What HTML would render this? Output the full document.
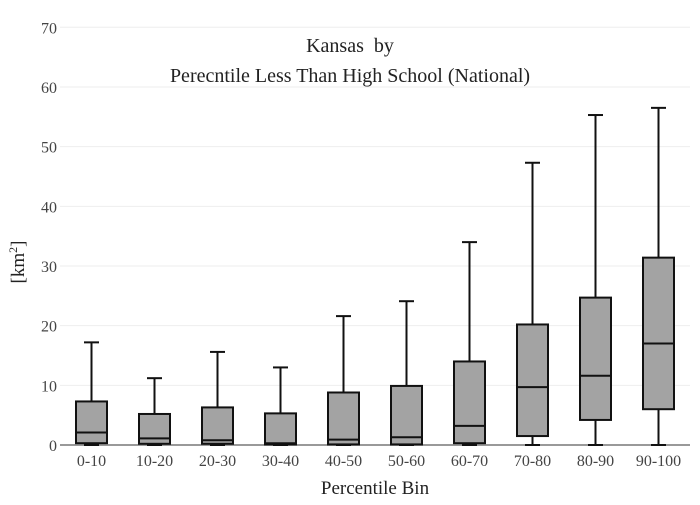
<!DOCTYPE html>
<html><head><meta charset="utf-8"><style>
body{margin:0;background:#fff}
text{font-family:"Liberation Serif",serif;fill:#444}
</style></head><body>
<svg width="700" height="500" id="svg" xmlns="http://www.w3.org/2000/svg">
<rect width="700" height="500" fill="#fff"/>
<text x="350" y="52" text-anchor="middle" font-size="20" style="fill:#222;white-space:pre">Kansas  by</text>
<text x="350" y="82" text-anchor="middle" font-size="20" style="fill:#222">Perecntile Less Than High School (National)</text>
<text x="375" y="494" text-anchor="middle" font-size="19" style="fill:#222">Percentile Bin</text>
<text transform="translate(24,262) rotate(-90)" text-anchor="middle" font-size="19" style="fill:#222">[km<tspan baseline-shift="super" font-size="12">2</tspan>]</text>
<g id="grid"></g><g id="boxes"></g>
</svg>
<script>
const categories=["0-10","10-20","20-30","30-40","40-50","50-60","60-70","70-80","80-90","90-100"];
const lowerW=[0,0,0,0,0,0,0,0,0,0];
const q1=[0.3,0.2,0.2,0.1,0.1,0.1,0.3,1.5,4.2,6.0];
const medians=[2.1,1.1,0.8,0.3,0.9,1.3,3.2,9.7,11.6,17.0];
const q3=[7.3,5.2,6.3,5.3,8.8,9.9,14.0,20.2,24.7,31.4];
const upperW=[17.2,11.2,15.6,13.0,21.6,24.1,34.0,47.3,55.3,56.5];
const yTicks=[0,10,20,30,40,50,60,70];
const NS="http://www.w3.org/2000/svg";
const X0=60,X1=690,Y0=445,PX=5.967;
const y=v=>Y0-v*PX;
const step=(X1-X0)/categories.length;
const x=i=>X0+step*(i+0.5);
function mk(tag,attrs,parent){const e=document.createElementNS(NS,tag);for(const k in attrs)e.setAttribute(k,attrs[k]);parent.appendChild(e);return e;}
const grid=document.getElementById('grid'),boxes=document.getElementById('boxes');
yTicks.forEach(t=>{
  const l=mk('line',{x1:X0,x2:X1,y1:y(t),y2:y(t),stroke:t===0?'#999':'#eee','stroke-width':t===0?2:1},grid);
  
  
  const tx=mk('text',{x:57,y:y(t)+6,'text-anchor':'end','font-size':16},grid);
  tx.textContent=t;
  
  
});
categories.forEach((c,i)=>{
  const cx=x(i),bw=31,cw=15;
  const g=mk('g',{},boxes);
  
  
  mk('line',{x1:cx,x2:cx,y1:y(upperW[i]),y2:y(q3[i]),stroke:'#111','stroke-width':2},g);
  mk('line',{x1:cx,x2:cx,y1:y(q1[i]),y2:y(lowerW[i]),stroke:'#111','stroke-width':2},g);
  mk('line',{x1:cx-cw/2,x2:cx+cw/2,y1:y(upperW[i]),y2:y(upperW[i]),stroke:'#111','stroke-width':2},g);
  mk('line',{x1:cx-cw/2,x2:cx+cw/2,y1:y(lowerW[i]),y2:y(lowerW[i]),stroke:'#111','stroke-width':2},g);
  mk('rect',{x:cx-bw/2,y:y(q3[i]),width:bw,height:y(q1[i])-y(q3[i]),fill:'#a3a3a3',stroke:'#111','stroke-width':2},g);
  mk('line',{x1:cx-bw/2,x2:cx+bw/2,y1:y(medians[i]),y2:y(medians[i]),stroke:'#111','stroke-width':2},g);
  const tx=mk('text',{x:cx,y:466,'text-anchor':'middle','font-size':16},boxes);
  tx.textContent=c;
  
  
});
</script>
</body></html>
